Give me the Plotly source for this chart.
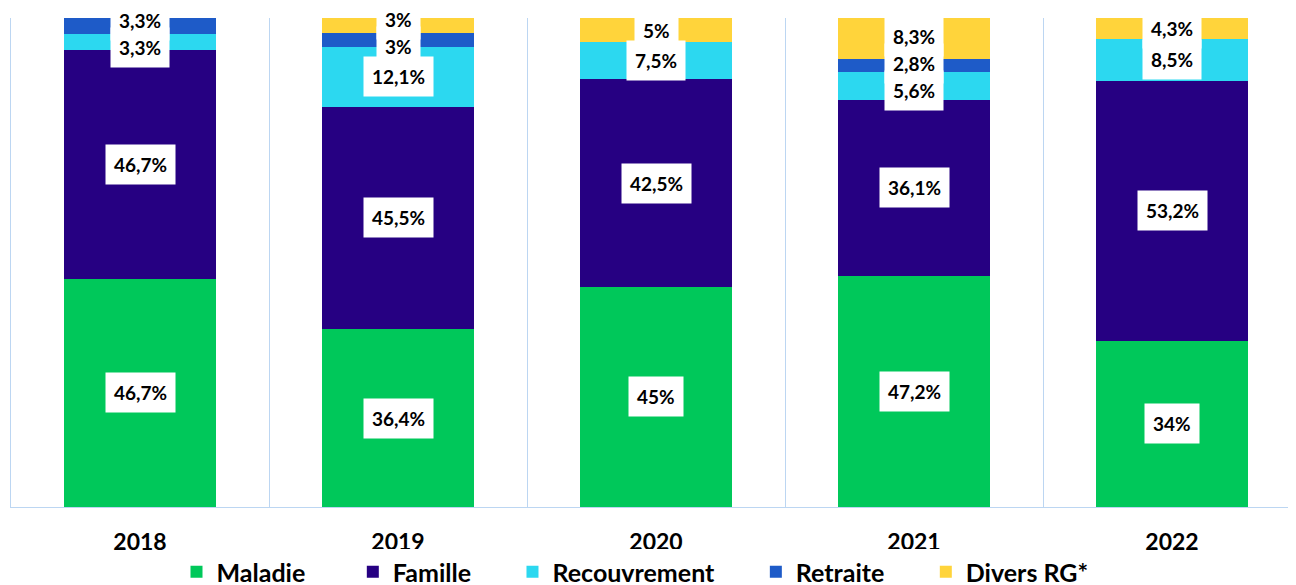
import plotly.graph_objects as go

# Data
years = ["2018", "2019", "2020", "2021", "2022"]
maladie = [46.7, 36.4, 45, 47.2, 34]
famille = [46.7, 45.5, 42.5, 36.1, 53.2]
recouvrement = [3.3, 12.1, 7.5, 5.6, 8.5]
retraite = [3.3, 3, 0, 2.8, 0]
divers = [0, 3, 5, 8.3, 4.3]

series_names = ["Maladie", "Famille", "Recouvrement", "Retraite", "Divers RG*"]
series_values = [maladie, famille, recouvrement, retraite, divers]
colors = ["#00C85A", "#260082", "#2CD8F0", "#1E5BC8", "#FFD43B"]

FONT = "Lato, Carlito, 'Open Sans', sans-serif"
GRID = "#BCD6F2"

W, H = 1296, 585
M_L, M_R, M_T, M_B = 3, 3, 10, 86  # page body adds 8px offset
PLOT_H = H - M_T - M_B
LABEL_GAP = 27 * 100 / PLOT_H  # min distance between stacked labels (in % units)

# non-breaking spaces to spread legend entries like the original
pads = [7, 6, 6, 6, 0]

fig = go.Figure()
for name, vals, col, p in zip(series_names, series_values, colors, pads):
    fig.add_trace(go.Bar(x=years, y=vals, name=name + "\u00a0" * p, marker_color=col,
                         marker_line_width=0, hoverinfo="skip"))


def fmt(v):
    s = ("%.1f" % v).rstrip("0").rstrip(".")
    return s.replace(".", ",") + "%"


# White boxed labels centred in each segment, pushed apart when they collide
annotations = []
for i, yr in enumerate(years):
    base = 0
    labels = []
    for vals in series_values:
        v = vals[i]
        if v > 0:
            labels.append([base + v / 2, fmt(v)])
        base += v
    for _ in range(20):
        for a, b in zip(labels[:-1], labels[1:]):
            d = b[0] - a[0]
            if d < LABEL_GAP:
                a[0] -= (LABEL_GAP - d) / 2
                b[0] += (LABEL_GAP - d) / 2
    for yc, txt in labels:
        annotations.append(dict(
            x=i, y=yc, xref="x", yref="y", text="<b>" + txt + "</b>",
            showarrow=False, bgcolor="white", borderpad=8,
            font=dict(family=FONT, size=19, color="black")))

fig.update_layout(
    barmode="stack",
    bargap=0.41,
    width=W, height=H,
    margin=dict(l=M_L, r=M_R, t=M_T, b=M_B, autoexpand=False),
    paper_bgcolor="white", plot_bgcolor="white",
    annotations=annotations,
    legend=dict(orientation="h", x=0.5 - 21 / W, xanchor="center", xref="container",
                y=1 - 564 / H, yanchor="middle", yref="container",
                font=dict(family=FONT, size=25, color="black", weight="bold"),
                itemwidth=30, traceorder="normal"),
    xaxis=dict(type="category", range=[-0.5, 4.5], tickson="boundaries", showgrid=True,
               gridcolor=GRID, gridwidth=1, ticks="", showline=True, automargin=False,
               linecolor=GRID, linewidth=1, ticklabelstandoff=14,
               tickfont=dict(family=FONT, size=23, color="black", weight="bold")),
    yaxis=dict(range=[0, 100], showgrid=False, showticklabels=False, zeroline=False,
               showline=True, linecolor=GRID, linewidth=1, automargin=False),
)

fig.write_html("out.html")
